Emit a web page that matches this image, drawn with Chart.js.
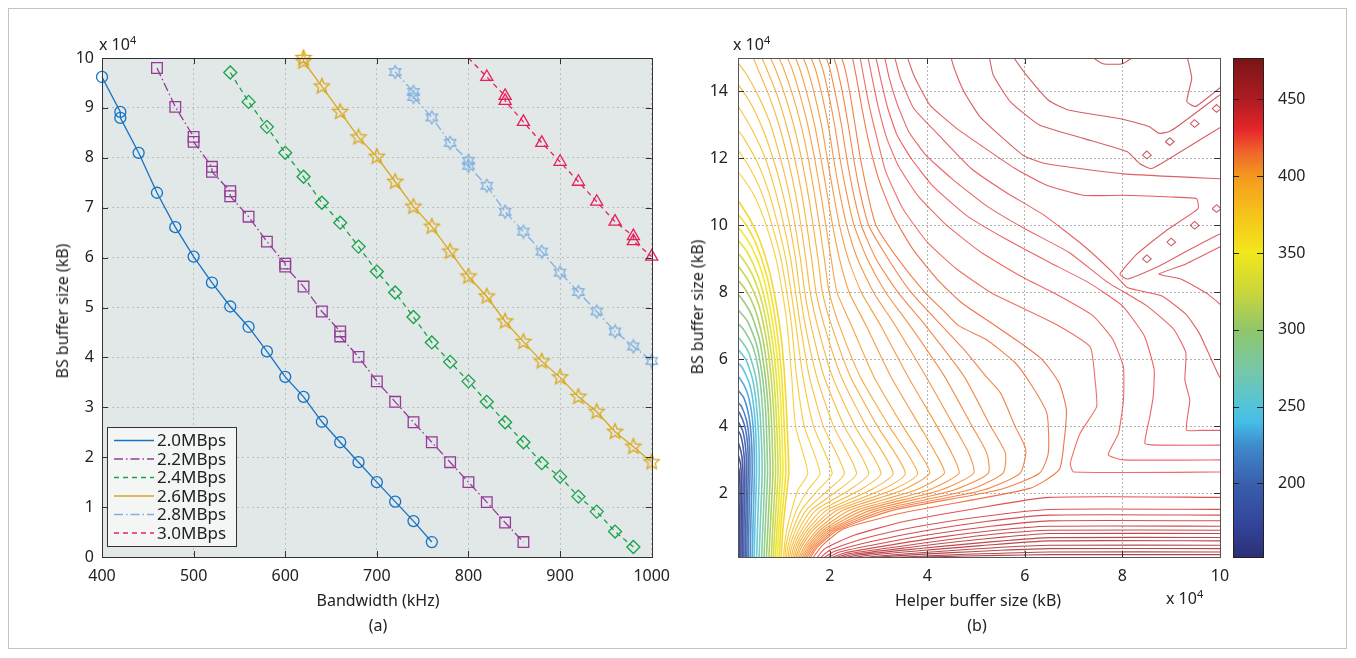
<!DOCTYPE html>
<html>
<head>
<meta charset="utf-8">
<title>BS buffer size vs bandwidth / helper buffer</title>
<script src="https://cdn.jsdelivr.net/npm/chart.js@4.4.1/dist/chart.umd.min.js"></script>
<style>
  body { margin: 0; width: 1356px; height: 658px; background: #fff; position: relative; overflow: hidden;
         font-family: "Noto Sans", "Open Sans", sans-serif; color: #222; }
  .frame { position: absolute; left: 8px; top: 8px; width: 1339px; height: 641px; border: 1px solid #c4c4c4; box-sizing: border-box; }
  canvas { position: absolute; }
  .lbl { position: absolute; font-size: 16px; line-height: 16px; white-space: nowrap; }
  .lbl sup { font-size: 11px; vertical-align: 6px; line-height: 0; }
  .mid { transform: translateX(-50%); }
  .rot { transform: translate(-50%, -50%) rotate(-90deg); }
</style>
</head>
<body>
<div class="frame"></div>
<canvas id="bw" width="640" height="600" style="left:40px;top:20px"></canvas>
<canvas id="contour" width="560" height="600" style="left:690px;top:20px"></canvas>
<canvas id="cbar" width="100" height="600" style="left:1225px;top:20px"></canvas>

<div class="lbl" style="left:99px;top:36px">x 10<sup>4</sup></div>
<div class="lbl" style="left:733px;top:36px">x 10<sup>4</sup></div>
<div class="lbl" style="left:1166px;top:590px">x 10<sup>4</sup></div>
<div class="lbl mid" style="left:378px;top:592px">Bandwidth (kHz)</div>
<div class="lbl mid" style="left:378px;top:617px">(a)</div>
<div class="lbl mid" style="left:978px;top:592px">Helper buffer size (kB)</div>
<div class="lbl mid" style="left:977px;top:617px">(b)</div>
<div class="lbl rot" style="left:62px;top:311px">BS buffer size (kB)</div>
<div class="lbl rot" style="left:697px;top:307px">BS buffer size (kB)</div>

<script>
// ---------- panel (a): bandwidth (kHz) vs BS buffer size (x 10^4 kB) ----------
const rateLabels = ['2.0MBps', '2.2MBps', '2.4MBps', '2.6MBps', '2.8MBps', '3.0MBps']
const bwTicks = [400, 500, 600, 700, 800, 900, 1000]
const bufTicks = [0, 1, 2, 3, 4, 5, 6, 7, 8, 9, 10]

const bw20 = [400, 420, 420, 440, 460, 480, 500, 520, 540, 560, 580, 600, 620, 640, 660, 680, 700, 720, 740, 760]
const buf20 = [9.62, 8.92, 8.80, 8.10, 7.30, 6.61, 6.02, 5.50, 5.02, 4.61, 4.12, 3.61, 3.21, 2.71, 2.30, 1.90, 1.50, 1.11, 0.72, 0.30]

const bw22 = [460, 480, 500, 500, 520, 520, 540, 540, 560, 580, 600, 600, 620, 640, 660, 660, 680, 700, 720, 740, 760, 780, 800, 820, 840, 860]
const buf22 = [9.80, 9.02, 8.42, 8.32, 7.82, 7.72, 7.33, 7.23, 6.82, 6.32, 5.88, 5.82, 5.42, 4.92, 4.52, 4.42, 4.01, 3.52, 3.11, 2.70, 2.30, 1.90, 1.50, 1.10, 0.69, 0.30]

const bw24 = [540, 560, 580, 600, 620, 640, 660, 680, 700, 720, 740, 760, 780, 800, 820, 840, 860, 880, 900, 920, 940, 960, 980]
const buf24 = [9.71, 9.12, 8.62, 8.10, 7.62, 7.10, 6.70, 6.22, 5.72, 5.30, 4.81, 4.30, 3.91, 3.52, 3.11, 2.70, 2.30, 1.88, 1.61, 1.21, 0.91, 0.51, 0.20]

const bw26 = [620, 620, 640, 660, 680, 700, 720, 740, 760, 780, 800, 820, 840, 860, 880, 900, 920, 940, 960, 980, 1000]
const buf26 = [10.0, 9.93, 9.43, 8.92, 8.41, 8.02, 7.52, 7.02, 6.62, 6.12, 5.62, 5.22, 4.72, 4.31, 3.92, 3.60, 3.21, 2.91, 2.51, 2.21, 1.90]

const bw28 = [720, 740, 740, 760, 780, 800, 800, 820, 840, 860, 880, 900, 920, 940, 960, 980, 1000]
const buf28 = [9.72, 9.32, 9.22, 8.81, 8.30, 7.94, 7.84, 7.44, 6.92, 6.52, 6.12, 5.70, 5.31, 4.92, 4.52, 4.22, 3.93]

const bw30 = [800, 820, 840, 840, 860, 880, 900, 920, 940, 960, 980, 980, 1000]
const buf30 = [10.0, 9.62, 9.24, 9.14, 8.72, 8.30, 7.92, 7.52, 7.12, 6.72, 6.43, 6.33, 6.02]

// ---------- panel (b): contour lines, helper buffer (x) vs BS buffer (y), both x 10^4 kB ----------
const helperTicks = [2, 4, 6, 8, 10]
const bsTicks = [2, 4, 6, 8, 10, 12, 14]

// lines hugging the left edge (blue -> yellow)
const stripLevels = [160, 168, 176, 184, 192, 200, 210, 220, 232, 244, 256, 268, 280, 290, 300, 310, 320, 330, 340, 350, 358, 364]
const stripPaths = [
  [0.15,0, 0.155,1.2, 0.16,2.2, 0.14,2.7, 0.08,3.05],
  [0.18,0, 0.185,1.2, 0.19,2.3, 0.17,2.9, 0.08,3.35],
  [0.21,0, 0.215,1.2, 0.225,2.4, 0.2,3.1, 0.13,3.5, 0.05,3.7],
  [0.24,0, 0.245,1.2, 0.26,2.5, 0.24,3.2, 0.17,3.75, 0.06,4.0],
  [0.27,0, 0.28,1.2, 0.295,2.6, 0.28,3.3, 0.22,3.85, 0.12,4.15, 0.03,4.3],
  [0.3,0, 0.31,1.2, 0.33,2.6, 0.32,3.4, 0.26,4.0, 0.15,4.4, 0.04,4.55],
  [0.33,0, 0.345,1.2, 0.365,2.6, 0.355,3.5, 0.3,4.15, 0.19,4.6, 0.05,4.8],
  [0.37,0, 0.385,1.2, 0.41,2.6, 0.4,3.5, 0.35,4.25, 0.24,4.85, 0.08,5.15],
  [0.41,0, 0.43,1.2, 0.455,2.6, 0.445,3.6, 0.4,4.4, 0.3,5.05, 0.15,5.45, 0.03,5.6],
  [0.45,0, 0.47,1.2, 0.5,2.6, 0.49,3.6, 0.45,4.5, 0.36,5.25, 0.21,5.75, 0.05,6.0],
  [0.5,0, 0.525,1.2, 0.555,2.6, 0.545,3.6, 0.5,4.6, 0.42,5.4, 0.28,6.0, 0.09,6.35],
  [0.55,0, 0.58,1.2, 0.615,2.6, 0.6,3.6, 0.56,4.6, 0.48,5.5, 0.34,6.2, 0.16,6.6, 0.03,6.75],
  [0.6,0, 0.635,1.2, 0.67,2.6, 0.655,3.6, 0.62,4.6, 0.55,5.6, 0.42,6.4, 0.23,6.9, 0.06,7.15],
  [0.65,0, 0.685,1.2, 0.725,2.6, 0.71,3.6, 0.68,4.6, 0.61,5.6, 0.49,6.5, 0.31,7.15, 0.11,7.5],
  [0.7,0, 0.74,1.2, 0.78,2.6, 0.765,3.6, 0.735,4.6, 0.67,5.6, 0.56,6.6, 0.39,7.35, 0.18,7.85, 0.03,8.05],
  [0.75,0, 0.79,1.2, 0.835,2.6, 0.82,3.6, 0.79,4.6, 0.73,5.6, 0.63,6.6, 0.47,7.5, 0.27,8.1, 0.07,8.45],
  [0.8,0, 0.84,1.2, 0.89,2.6, 0.875,3.6, 0.845,4.6, 0.79,5.6, 0.7,6.6, 0.55,7.6, 0.35,8.3, 0.14,8.75, 0.02,8.9],
  [0.84,0, 0.885,1.2, 0.94,2.6, 0.925,3.6, 0.895,4.6, 0.845,5.6, 0.76,6.6, 0.63,7.6, 0.44,8.45, 0.22,9.0, 0.04,9.3],
  [0.88,0, 0.93,1.2, 0.99,2.6, 0.975,3.6, 0.945,4.6, 0.9,5.6, 0.82,6.6, 0.7,7.6, 0.53,8.5, 0.31,9.2, 0.1,9.6],
  [0.92,0, 0.97,1.2, 1.04,2.6, 1.025,3.6, 1.0,4.6, 0.955,5.6, 0.88,6.6, 0.77,7.6, 0.61,8.6, 0.4,9.35, 0.18,9.85, 0.03,10.05],
  [0.96,0, 1.01,1.2, 1.1,2.6, 1.08,3.6, 1.05,4.6, 1.01,5.6, 0.94,6.6, 0.84,7.6, 0.69,8.6, 0.49,9.45, 0.27,10.05, 0.06,10.45],
  [1.0,0, 1.04,0.9, 1.1,1.8, 1.16,2.6, 1.14,3.6, 1.11,4.6, 1.07,5.6, 1.01,6.6, 0.91,7.6, 0.77,8.6, 0.58,9.5, 0.36,10.2, 0.14,10.7, 0.0,11.0]
]

// chevron-shaped lines ('>' with the tip near BS = 2.6)
const chevronLevels = [372, 375, 378, 381, 384, 387, 390, 393, 396, 399, 401, 403, 405, 407, 409, 411, 413, 415, 418]
const chevronPaths = [
  [1.05,0, 1.07,0.4, 1.12,0.9, 1.22,1.5, 1.35,2.1, 1.55,2.6, 1.3,4.0, 1.22,5.5, 1.13,7.0, 1.03,8.0, 0.9,9.0, 0.7,10.0, 0.45,10.9, 0.18,11.5, 0.0,11.8],
  [1.08,0, 1.1,0.4, 1.18,0.9, 1.32,1.5, 1.55,2.1, 1.8,2.6, 1.48,4.0, 1.32,5.5, 1.22,7.0, 1.12,8.0, 1.0,9.0, 0.82,10.0, 0.6,11.0, 0.33,11.8, 0.05,12.4],
  [1.11,0, 1.14,0.4, 1.24,0.9, 1.42,1.5, 1.76,2.1, 2.05,2.6, 1.67,4.0, 1.45,5.5, 1.31,7.0, 1.21,8.0, 1.1,9.0, 0.94,10.0, 0.75,11.0, 0.51,11.9, 0.24,12.6, 0.0,13.1],
  [1.14,0, 1.18,0.4, 1.3,0.9, 1.52,1.5, 1.97,2.1, 2.3,2.6, 1.87,4.0, 1.58,5.5, 1.4,7.0, 1.3,8.0, 1.2,9.0, 1.06,10.0, 0.89,11.0, 0.68,12.0, 0.43,12.8, 0.15,13.5, 0.0,13.8],
  [1.17,0, 1.22,0.4, 1.36,0.9, 1.62,1.5, 2.18,2.1, 2.55,2.6, 2.08,4.0, 1.73,5.5, 1.5,7.0, 1.39,8.0, 1.3,9.0, 1.18,10.0, 1.03,11.0, 0.84,12.0, 0.62,12.9, 0.36,13.7, 0.08,14.3],
  [1.2,0, 1.26,0.4, 1.42,0.9, 1.72,1.5, 2.4,2.1, 2.8,2.6, 2.3,4.0, 1.88,5.5, 1.62,7.0, 1.49,8.0, 1.4,9.0, 1.29,10.0, 1.16,11.0, 0.99,12.0, 0.79,13.0, 0.56,13.8, 0.3,14.5, 0.05,15.0],
  [1.23,0, 1.3,0.4, 1.48,0.9, 1.83,1.5, 2.62,2.1, 3.05,2.6, 2.52,4.0, 2.05,5.5, 1.75,7.0, 1.6,8.0, 1.51,9.0, 1.41,10.0, 1.29,11.0, 1.14,12.0, 0.96,13.0, 0.75,13.9, 0.52,14.7, 0.38,15.2],
  [1.26,0, 1.34,0.4, 1.54,0.9, 1.94,1.5, 2.84,2.1, 3.3,2.6, 2.75,4.0, 2.23,5.5, 1.89,7.0, 1.72,8.0, 1.63,9.0, 1.53,10.0, 1.42,11.0, 1.28,12.0, 1.11,13.0, 0.92,13.9, 0.7,14.7, 0.55,15.2],
  [1.29,0, 1.38,0.4, 1.6,0.9, 2.05,1.5, 3.06,2.1, 3.55,2.6, 2.98,4.0, 2.42,5.5, 2.04,7.0, 1.85,8.0, 1.76,9.0, 1.66,10.0, 1.55,11.0, 1.42,12.0, 1.26,13.0, 1.08,13.9, 0.88,14.7, 0.72,15.2],
  [1.32,0, 1.42,0.4, 1.66,0.9, 2.16,1.5, 3.28,2.1, 3.8,2.6, 3.22,4.0, 2.62,5.5, 2.2,7.0, 1.99,8.0, 1.89,9.0, 1.79,10.0, 1.68,11.0, 1.56,12.0, 1.41,13.0, 1.24,13.9, 1.05,14.7, 0.9,15.2],
  [1.35,0, 1.47,0.4, 1.74,0.9, 2.28,1.5, 3.5,2.1, 4.05,2.6, 3.85,3.2, 3.5,4.0, 2.9,5.5, 2.45,7.0, 2.15,8.0, 2.03,9.0, 1.92,10.0, 1.81,11.0, 1.69,12.0, 1.55,13.0, 1.39,13.9, 1.22,14.7, 1.07,15.2],
  [1.38,0, 1.51,0.4, 1.8,0.9, 2.42,1.5, 3.76,2.1, 4.35,2.6, 4.17,3.2, 3.85,4.0, 3.25,5.5, 2.75,7.0, 2.4,8.0, 2.2,9.0, 2.06,10.0, 1.94,11.0, 1.82,12.0, 1.69,13.0, 1.54,13.9, 1.38,14.7, 1.24,15.2],
  [1.41,0, 1.55,0.4, 1.86,0.9, 2.56,1.5, 4.02,2.1, 4.65,2.6, 4.5,3.2, 4.2,4.0, 3.6,5.5, 3.05,7.0, 2.65,8.0, 2.38,9.0, 2.2,10.0, 2.07,11.0, 1.95,12.0, 1.83,13.0, 1.69,13.9, 1.54,14.7, 1.4,15.2],
  [1.44,0, 1.59,0.4, 1.92,0.9, 2.7,1.5, 4.28,2.1, 4.95,2.6, 4.85,3.2, 4.55,4.0, 3.97,5.5, 3.35,7.0, 2.9,8.0, 2.57,9.0, 2.35,10.0, 2.2,11.0, 2.08,12.0, 1.97,13.0, 1.84,13.9, 1.7,14.7, 1.56,15.2],
  [1.47,0, 1.63,0.4, 1.98,0.9, 2.85,1.5, 4.55,2.1, 5.25,2.6, 5.22,3.2, 4.92,4.0, 4.35,5.5, 3.65,7.0, 3.15,8.0, 2.77,9.0, 2.5,10.0, 2.34,11.0, 2.21,12.0, 2.1,13.0, 1.98,13.9, 1.85,14.7, 1.72,15.2],
  [1.5,0, 1.67,0.4, 2.04,0.9, 3.0,1.5, 4.85,2.1, 5.55,2.6, 5.6,3.2, 5.3,4.0, 4.75,5.5, 3.97,7.0, 3.4,8.0, 2.95,9.0, 2.65,10.0, 2.48,11.0, 2.35,12.0, 2.24,13.0, 2.12,13.9, 2.0,14.7, 1.88,15.2],
  [1.54,0, 1.71,0.4, 2.1,0.9, 3.15,1.5, 5.15,2.1, 5.9,2.6, 6.02,3.3, 5.8,4.0, 5.5,5.0, 5.2,5.5, 4.75,6.3, 4.3,7.0, 3.67,8.0, 3.2,9.0, 2.8,10.0, 2.62,11.0, 2.49,12.0, 2.38,13.0, 2.27,13.9, 2.15,14.7, 2.04,15.2],
  [1.57,0, 1.75,0.4, 2.16,0.9, 3.3,1.5, 5.45,2.1, 6.3,2.6, 6.48,3.2, 6.45,4.4, 6.15,5.2, 5.8,5.9, 5.2,6.6, 4.65,7.0, 4.3,7.5, 3.95,8.0, 3.4,9.0, 2.95,10.0, 2.77,11.0, 2.63,12.0, 2.52,13.0, 2.42,13.9, 2.31,14.7, 2.2,15.2],
  [1.62,0, 1.85,0.45, 2.3,0.95, 3.6,1.45, 6.1,2.15, 6.7,2.7, 6.8,3.5, 6.85,4.5, 6.7,5.3, 6.35,6.0, 5.9,6.5, 5.3,7.1, 4.7,7.7, 4.2,8.4, 3.7,9.3, 3.3,10.3, 3.0,11.4, 2.8,12.5, 2.66,13.5, 2.55,14.4, 2.44,15.2]
]

// upper-right lines (some fold back to the right edge)
const upperLevels = [426, 428, 430, 432, 434, 436, 437, 438, 440, 442, 444, 446]
const upperPaths = [
  [2.6,15.2, 2.7,14.4, 2.82,13.5, 2.97,12.6, 3.15,11.6, 3.5,10.5, 4.0,9.5, 4.6,8.7, 5.3,8.0, 6.0,7.5, 6.7,7.0, 7.34,6.37, 7.44,5.38, 7.47,4.58, 7.13,3.79, 6.93,2.89, 7.0,2.64, 10.2,2.64],
  [2.76,15.2, 2.87,14.4, 3.0,13.5, 3.17,12.6, 3.4,11.8, 3.8,10.9, 4.4,10.0, 5.1,9.2, 5.9,8.5, 6.7,7.9, 7.4,7.3, 7.8,6.6, 8.02,5.78, 8.02,4.78, 7.92,3.79, 7.71,3.15, 8.02,3.0, 10.2,3.0],
  [2.92,15.2, 3.04,14.4, 3.19,13.5, 3.38,12.7, 3.67,12.0, 4.1,11.2, 4.8,10.3, 5.6,9.6, 6.5,8.9, 7.3,8.3, 8.0,7.6, 8.45,6.7, 8.65,5.7, 8.63,4.88, 8.56,4.28, 8.46,3.49, 8.7,3.44, 10.2,3.44],
  [3.1,15.2, 3.22,14.4, 3.39,13.6, 3.62,12.8, 3.97,12.1, 4.5,11.4, 5.2,10.6, 6.0,9.9, 6.9,9.2, 7.7,8.3, 8.5,7.6, 9.05,6.9, 9.3,6.2, 9.28,5.38, 9.38,4.78, 9.31,3.89, 9.6,3.88, 10.2,3.88],
  [3.3,15.2, 3.45,14.4, 3.72,13.5, 4.3,12.6, 4.9,11.7, 5.6,11.0, 6.4,10.3, 7.2,9.4, 7.8,8.6, 8.1,8.15, 8.8,7.9, 9.3,7.35, 9.58,6.77, 9.99,5.48, 10.2,5.2],
  [3.55,15.2, 3.72,14.5, 4.05,13.6, 4.6,12.9, 5.09,12.4, 5.8,11.7, 6.45,11.2, 7.2,10.9, 8.02,10.9, 9.0,10.85, 9.52,10.8, 9.55,10.5, 8.9,9.85, 8.3,9.15, 7.95,8.55, 8.1,8.4, 8.7,8.75, 9.4,9.3, 10.2,9.9],
  [10.2,7.4, 9.75,7.95, 9.2,8.4, 8.75,8.55, 9.3,8.85, 9.85,9.25, 10.2,9.5],
  [4.45,15.2, 4.55,14.7, 4.75,14.0, 5.09,13.23, 5.97,12.09, 6.45,11.84, 8.02,11.54, 10.2,11.38],
  [5.25,15.2, 5.35,14.5, 5.7,13.7, 6.3,13.0, 7.2,12.6, 8.1,12.2, 8.35,11.85, 8.6,11.7, 9.3,12.3, 10.2,13.1],
  [5.68,15.2, 6.0,14.55, 6.49,13.73, 6.89,13.45, 7.98,13.18, 8.55,12.95, 8.75,12.75, 8.95,12.8, 9.17,13.0, 9.95,13.85, 10.2,14.1],
  [9.3,15.2, 9.42,14.4, 9.32,13.7, 9.5,13.55, 10.2,14.35],
  [7.3,15.1, 7.6,14.83, 8.0,14.83, 8.3,15.1]
]

// small closed loops along the ridges at the upper right
const loopLevels = [448, 448, 448, 448, 448, 448, 448, 448]
const loopPaths = [
  [8.41,12.1, 8.5,12.22, 8.59,12.1, 8.5,11.99, 8.41,12.1],
  [8.88,12.5, 8.97,12.62, 9.06,12.5, 8.97,12.39, 8.88,12.5],
  [9.39,13.04, 9.48,13.16, 9.57,13.04, 9.48,12.93, 9.39,13.04],
  [9.84,13.49, 9.93,13.61, 10.02,13.49, 9.93,13.38, 9.84,13.49],
  [8.41,9.0, 8.5,9.12, 8.59,9.0, 8.5,8.89, 8.41,9.0],
  [8.91,9.5, 9.0,9.62, 9.09,9.5, 9.0,9.39, 8.91,9.5],
  [9.39,10.0, 9.48,10.12, 9.57,10.0, 9.48,9.89, 9.39,10.0],
  [9.84,10.5, 9.93,10.62, 10.02,10.5, 9.93,10.39, 9.84,10.5]
]

// near-horizontal lines at small BS buffer
const bottomLevels = [434, 437, 440, 442, 444, 446, 448, 450, 452, 454, 456, 458, 460]
const bottomPaths = [
  [1.7,0, 1.9,0.35, 2.5,0.75, 3.5,1.15, 5.0,1.55, 6.5,1.88, 10.2,1.88],
  [1.75,0, 2.0,0.3, 2.7,0.65, 3.7,0.98, 5.1,1.3, 6.5,1.52, 10.2,1.52],
  [1.8,0, 2.1,0.27, 2.9,0.58, 3.9,0.87, 5.2,1.16, 6.5,1.35, 10.2,1.35],
  [1.85,0, 2.2,0.25, 3.1,0.52, 4.1,0.78, 5.3,1.02, 6.5,1.18, 10.2,1.18],
  [1.9,0, 2.3,0.22, 3.3,0.47, 4.3,0.7, 5.4,0.9, 6.5,1.02, 10.2,1.02],
  [1.95,0, 2.4,0.2, 3.5,0.43, 4.5,0.63, 5.5,0.8, 6.5,0.9, 10.2,0.9],
  [2.0,0, 2.5,0.18, 3.7,0.4, 4.7,0.57, 5.6,0.7, 6.5,0.8, 10.2,0.8],
  [2.05,0, 2.6,0.16, 3.9,0.36, 4.9,0.5, 5.7,0.6, 6.5,0.68, 10.2,0.68],
  [2.1,0, 2.8,0.15, 4.1,0.32, 5.1,0.44, 6.5,0.58, 10.2,0.58],
  [2.2,0, 3.0,0.13, 4.3,0.27, 5.3,0.37, 6.5,0.45, 10.2,0.45],
  [2.3,0, 3.2,0.12, 4.5,0.23, 5.5,0.3, 6.5,0.35, 10.2,0.35],
  [2.4,0, 3.5,0.1, 4.8,0.18, 6.5,0.25, 10.2,0.25],
  [2.6,0, 4.0,0.1, 5.5,0.15, 6.5,0.17, 10.2,0.17]
]

// colour bar
const cbarTicks = [200, 250, 300, 350, 400, 450]
const cmapValues = [152, 175, 200, 225, 240, 250, 275, 300, 325, 350, 375, 390, 400, 415, 430, 450, 477]
const cmapColors = ['#2b2f78', '#33469a', '#3a5fac', '#3f8ccc', '#45bee8', '#52c4da', '#78c8a6', '#8fc66a',
                    '#cbd63a', '#f1e81c', '#f6c31a', '#f5ab1c', '#f4981f', '#f0682a', '#e8262a', '#ad1c22', '#7a1416']

// ---------- helpers ----------
Chart.defaults.font.family = '"Noto Sans", "Open Sans", sans-serif'
Chart.defaults.font.size = 16
Chart.defaults.color = '#222'

function toPoints(xs, ys) {
  return xs.map((x, i) => ({ x, y: ys[i] }))
}

function flatPoints(path) {
  const out = []
  for (let i = 0; i < path.length; i += 2) out.push({ x: path[i], y: path[i + 1] })
  return out
}

function hexToRgb(h) {
  return [parseInt(h.slice(1, 3), 16), parseInt(h.slice(3, 5), 16), parseInt(h.slice(5, 7), 16)]
}

function levelColor(v, alpha) {
  const n = cmapValues.length
  if (v <= cmapValues[0]) v = cmapValues[0]
  if (v >= cmapValues[n - 1]) v = cmapValues[n - 1]
  let i = 0
  while (i < n - 2 && v > cmapValues[i + 1]) i++
  const t = (v - cmapValues[i]) / (cmapValues[i + 1] - cmapValues[i])
  const a = hexToRgb(cmapColors[i]), b = hexToRgb(cmapColors[i + 1])
  const c = a.map((x, k) => Math.round(x + (b[k] - x) * t))
  return `rgba(${c[0]}, ${c[1]}, ${c[2]}, ${alpha})`
}

function starImage(color, points, outer, inner, size) {
  const c = document.createElement('canvas')
  c.width = c.height = size
  const g = c.getContext('2d')
  g.strokeStyle = color
  g.lineWidth = 1.3
  g.beginPath()
  for (let i = 0; i < points * 2; i++) {
    const r = i % 2 ? inner : outer
    const a = -Math.PI / 2 + i * Math.PI / points
    const px = size / 2 + r * Math.cos(a), py = size / 2 + r * Math.sin(a)
    if (i) g.lineTo(px, py); else g.moveTo(px, py)
  }
  g.closePath()
  g.stroke()
  return c
}

// fixed tick lists so the axes match the figure
const fixedTicks = (list) => (scale) => { scale.ticks = list.map(v => ({ value: v })) }

// box frame with inward ticks on all sides (MATLAB look)
const frameTicks = {
  id: 'frameTicks',
  afterDraw(chart, args, opts) {
    const { ctx, chartArea: a } = chart
    const len = 6
    ctx.save()
    ctx.strokeStyle = opts.color || '#333'
    ctx.lineWidth = 1
    ctx.beginPath()
    const xs = chart.scales.x, ys = chart.scales.y
    if (opts.xTicks !== false) {
      xs.ticks.forEach(t => {
        const p = Math.round(xs.getPixelForValue(t.value)) + 0.5
        ctx.moveTo(p, a.bottom); ctx.lineTo(p, a.bottom - len)
        ctx.moveTo(p, a.top); ctx.lineTo(p, a.top + len)
      })
    }
    ys.ticks.forEach(t => {
      const p = Math.round(ys.getPixelForValue(t.value)) + 0.5
      ctx.moveTo(a.left, p); ctx.lineTo(a.left + len, p)
      ctx.moveTo(a.right, p); ctx.lineTo(a.right - len, p)
    })
    ctx.stroke()
    ctx.strokeStyle = opts.frame || '#333'
    ctx.strokeRect(Math.round(a.left) + 0.5, Math.round(a.top) + 0.5, Math.round(a.width), Math.round(a.height))
    ctx.restore()
  }
}

const areaFill = {
  id: 'areaFill',
  beforeDraw(chart, args, opts) {
    const { ctx, chartArea: a } = chart
    ctx.save()
    ctx.fillStyle = opts.color
    ctx.fillRect(a.left, a.top, a.width, a.height)
    ctx.restore()
  }
}

// legend box drawn inside panel (a)
const innerLegend = {
  id: 'innerLegend',
  afterDatasetsDraw(chart) {
    const { ctx, chartArea: a } = chart
    const left = a.left + 5, top = a.top + 369, w = 129, h = 119
    ctx.save()
    ctx.fillStyle = '#f4f6f6'
    ctx.fillRect(left, top, w, h)
    ctx.strokeStyle = '#333'
    ctx.lineWidth = 1
    ctx.strokeRect(left + 0.5, top + 0.5, w, h)
    ctx.font = '17px "Noto Sans", "Open Sans", sans-serif'
    ctx.textBaseline = 'middle'
    chart.data.datasets.forEach((ds, i) => {
      const y = top + 13.5 + i * 18.5
      ctx.strokeStyle = ds.borderColor
      ctx.lineWidth = 1.4
      ctx.setLineDash(ds.borderDash || [])
      ctx.beginPath()
      ctx.moveTo(left + 7, y); ctx.lineTo(left + 47, y)
      ctx.stroke()
      ctx.setLineDash([])
      ctx.fillStyle = '#222'
      ctx.fillText(ds.label, left + 50, y + 1)
    })
    ctx.restore()
  }
}

// ---------- panel (a) ----------
const blue = '#1473c4', purple = '#943c98', green = '#17a34a', gold = '#d9a81c', sky = '#7fb0e0', rose = '#e8205a'
const dashDot = [9, 3, 1.5, 3]
const dashed = [5, 4]

function series(label, xs, ys, color, dash, style, radius) {
  return {
    label,
    data: toPoints(xs, ys),
    borderColor: color,
    borderWidth: 1.3,
    borderDash: dash,
    pointStyle: style,
    pointRadius: radius,
    pointBorderColor: color,
    pointBackgroundColor: 'rgba(0,0,0,0)',
    pointBorderWidth: 1.3,
    tension: 0,
    clip: 12
  }
}

new Chart(document.getElementById('bw'), {
  type: 'line',
  data: {
    datasets: [
      series(rateLabels[0], bw20, buf20, blue, [], 'circle', 5.5),
      series(rateLabels[1], bw22, buf22, purple, dashDot, 'rect', 7.5),
      series(rateLabels[2], bw24, buf24, green, dashed, 'rectRot', 6.5),
      series(rateLabels[3], bw26, buf26, gold, [], starImage(gold, 5, 8, 3.6, 20), 7),
      series(rateLabels[4], bw28, buf28, sky, dashDot, starImage(sky, 6, 6.5, 3.7, 16), 6),
      series(rateLabels[5], bw30, buf30, rose, dashed, 'triangle', buf30.map((v, i) => i === 0 ? 0 : 7))
    ]
  },
  options: {
    responsive: false,
    animation: false,
    events: [],
    layout: { padding: { left: 0, top: 38, right: 25, bottom: 0 } },
    plugins: {
      legend: { display: false },
      tooltip: { enabled: false },
      areaFill: { color: '#e2e7e7' },
      frameTicks: { color: '#333' }
    },
    scales: {
      x: {
        type: 'linear', min: 400, max: 1000,
        afterBuildTicks: fixedTicks(bwTicks),
        afterFit: (s) => { s.height = 63 },
        grid: { color: '#babebe', drawTicks: false },
        border: { display: false, dash: [2, 3] },
        ticks: { padding: 10, callback: (v) => String(v) }
      },
      y: {
        min: 0, max: 10,
        afterBuildTicks: fixedTicks(bufTicks),
        afterFit: (s) => { s.width = 62 },
        grid: { color: '#babebe', drawTicks: false },
        border: { display: false, dash: [2, 3] },
        ticks: { padding: 8, callback: (v) => String(v) }
      }
    }
  },
  plugins: [areaFill, frameTicks, innerLegend]
})

// ---------- panel (b) ----------
function contourSets(levels, paths, width, tension, alpha) {
  return paths.map((p, i) => ({
    data: flatPoints(p),
    borderColor: levelColor(levels[i], alpha),
    borderWidth: width,
    pointRadius: 0,
    tension,
    fill: false
  }))
}

new Chart(document.getElementById('contour'), {
  type: 'line',
  data: {
    datasets: [
      ...contourSets(stripLevels, stripPaths, 1.6, 0.2, 0.9),
      ...contourSets(bottomLevels, bottomPaths, 1.1, 0.2, 0.8),
      ...contourSets(chevronLevels, chevronPaths, 1.1, 0.2, 0.85),
      ...contourSets(upperLevels, upperPaths, 1.1, 0.15, 0.72),
      ...contourSets(loopLevels, loopPaths, 1.1, 0, 0.72)
    ]
  },
  options: {
    responsive: false,
    animation: false,
    events: [],
    layout: { padding: { left: 0, top: 38, right: 30, bottom: 0 } },
    plugins: {
      legend: { display: false },
      tooltip: { enabled: false },
      areaFill: { color: '#ffffff' },
      frameTicks: { color: '#333', frame: '#555' }
    },
    scales: {
      x: {
        type: 'linear', min: 0.12, max: 10,
        afterBuildTicks: fixedTicks(helperTicks),
        afterFit: (s) => { s.height = 63 },
        grid: { color: '#b4b4b4', drawTicks: false },
        border: { display: false, dash: [2, 2] },
        ticks: { padding: 10, callback: (v) => String(v) }
      },
      y: {
        type: 'linear', min: 0.1, max: 15,
        afterBuildTicks: fixedTicks(bsTicks),
        afterFit: (s) => { s.width = 48 },
        grid: { color: '#b4b4b4', drawTicks: false },
        border: { display: false, dash: [2, 2] },
        ticks: { padding: 10, callback: (v) => String(v) }
      }
    }
  },
  plugins: [areaFill, frameTicks]
})

// ---------- colour bar ----------
const cbarFill = {
  id: 'cbarFill',
  beforeDatasetsDraw(chart) {
    const { ctx, chartArea: a, scales: { y } } = chart
    const y0 = y.getPixelForValue(cmapValues[0])
    const y1 = y.getPixelForValue(cmapValues[cmapValues.length - 1])
    const g = ctx.createLinearGradient(0, y0, 0, y1)
    cmapValues.forEach((v, i) => g.addColorStop((y.getPixelForValue(v) - y0) / (y1 - y0), cmapColors[i]))
    ctx.save()
    ctx.fillStyle = g
    ctx.fillRect(a.left, a.top, a.width, a.height)
    ctx.restore()
  }
}

new Chart(document.getElementById('cbar'), {
  type: 'scatter',
  data: { datasets: [{ data: [] }] },
  options: {
    responsive: false,
    animation: false,
    events: [],
    layout: { padding: { left: 8, top: 38, right: 0, bottom: 63 } },
    plugins: {
      legend: { display: false },
      tooltip: { enabled: false },
      frameTicks: { color: '#222', frame: '#222', xTicks: false }
    },
    scales: {
      x: { display: false, min: 0, max: 1 },
      y: {
        position: 'right', min: 152, max: 477,
        afterBuildTicks: fixedTicks(cbarTicks),
        afterFit: (s) => { s.width = 62 },
        grid: { display: false },
        border: { display: false },
        ticks: { padding: 7, callback: (v) => String(v) }
      }
    }
  },
  plugins: [cbarFill, frameTicks]
})
</script>
</body>
</html>
